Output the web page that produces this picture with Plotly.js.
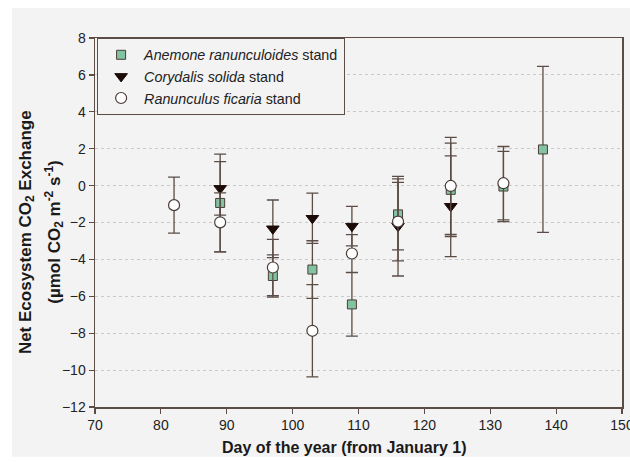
<!DOCTYPE html>
<html>
<head>
<meta charset="utf-8">
<script src="https://cdn.plot.ly/plotly-3.0.1.min.js"></script>
<style>
  html, body { margin: 0; padding: 0; background: #ffffff; }
  #chart { width: 630px; height: 462px; }
</style>
</head>
<body>
<div id="chart"></div>
<script>
// Net ecosystem CO2 exchange (mean ± error) by day of year for three spring-geophyte stands
const anemoneDays = [89, 97, 103, 109, 116, 124, 132, 138];
const anemoneNee  = [-0.94, -4.90, -4.55, -6.44, -1.56, -0.23, -0.05, 1.96];
const anemoneErr  = [2.65, 1.14, 1.56, 1.72, 1.92, 2.53, 1.90, 4.50];

const corydalisDays = [89, 97, 103, 109, 116, 124];
const corydalisNee  = [-0.15, -2.34, -1.77, -2.20, -2.20, -1.12];
const corydalisErr  = [1.45, 1.56, 1.36, 1.07, 2.70, 2.73];

const ranunculusDays = [82, 89, 97, 103, 109, 116, 124, 132];
const ranunculusNee  = [-1.06, -1.99, -4.44, -7.87, -3.68, -1.95, -0.02, 0.13];
const ranunculusErr  = [1.52, 1.60, 1.53, 2.50, 1.02, 2.13, 2.63, 1.99];

const seriesNames = [
  '<i>Anemone ranunculoides</i> stand',
  '<i>Corydalis solida</i> stand',
  '<i>Ranunculus ficaria</i> stand'
];

const ink = '#5b4c45';
const errStyle = (vals) => ({
  type: 'data', array: vals, visible: true,
  color: ink, thickness: 1.3, width: 6
});

const traces = [
  {
    x: anemoneDays, y: anemoneNee, error_y: errStyle(anemoneErr),
    name: seriesNames[0], mode: 'markers', type: 'scatter',
    marker: { symbol: 'square', size: 9, color: '#82c3a2',
              line: { color: '#4a3d37', width: 1 } }
  },
  {
    x: corydalisDays, y: corydalisNee, error_y: errStyle(corydalisErr),
    name: seriesNames[1], mode: 'markers', type: 'scatter',
    marker: { symbol: 'triangle-down', size: 11, color: '#1c0a06',
              line: { color: '#1c0a06', width: 1 } }
  },
  {
    x: ranunculusDays, y: ranunculusNee, error_y: errStyle(ranunculusErr),
    name: seriesNames[2], mode: 'markers', type: 'scatter',
    marker: { symbol: 'circle', size: 11, color: '#ffffff',
              line: { color: '#4a3d37', width: 1.2 } }
  }
];

const font = 'Liberation Sans, Arial, sans-serif';

const layout = {
  width: 630, height: 462,
  margin: { l: 95, r: 8, t: 38, b: 55 },
  paper_bgcolor: '#ffffff',
  plot_bgcolor: 'rgba(0,0,0,0)',
  font: { family: font, size: 14, color: '#222222' },
  showlegend: true,
  legend: {
    x: 0.004, y: 1, xanchor: 'left', yanchor: 'top',
    bgcolor: '#f3f3f3', bordercolor: ink, borderwidth: 1,
    font: { family: font, size: 14.3, color: '#222222' },
    itemwidth: 36,
    tracegroupgap: 0
  },
  xaxis: {
    range: [70, 150], dtick: 10, tick0: 70,
    showgrid: false, zeroline: false,
    showline: true, linecolor: ink, linewidth: 1.5, mirror: true,
    ticks: 'outside', ticklen: 5, tickwidth: 1.2, tickcolor: ink,
    ticklabeloverflow: 'allow',
    tickfont: { family: font, size: 14, color: '#222222' }
  },
  yaxis: {
    range: [-12, 8], dtick: 2, tick0: -12,
    showgrid: true, gridcolor: '#c9c9c9', gridwidth: 1, griddash: 'dot',
    zeroline: false,
    showline: true, linecolor: ink, linewidth: 1.5, mirror: true,
    ticks: 'outside', ticklen: 5, tickwidth: 1.2, tickcolor: ink,
    tickfont: { family: font, size: 14, color: '#222222' }
  },
  shapes: [{
    type: 'rect', xref: 'paper', yref: 'paper', layer: 'below',
    x0: -0.1575, x1: 1.02, y0: -0.135, y1: 1.0813,
    fillcolor: '#f3f3f3', line: { width: 0 }
  }],
  annotations: [
    {
      text: '<b>Day of the year (from January 1)</b>',
      xref: 'paper', yref: 'paper', x: 0.474, y: -0.111,
      xanchor: 'center', yanchor: 'middle', showarrow: false,
      font: { family: font, size: 16, color: '#1a1a1a' }
    },
    {
      text: '<b>Net Ecosystem CO<sub>2</sub> Exchange</b>',
      xref: 'paper', yref: 'paper', x: -0.129, y: 0.474,
      xanchor: 'center', yanchor: 'middle', textangle: -90, showarrow: false,
      font: { family: font, size: 17, color: '#1a1a1a' }
    },
    {
      text: '<b>(µmol CO<sub>2</sub> m<sup>-2</sup> s<sup>-1</sup>)</b>',
      xref: 'paper', yref: 'paper', x: -0.0785, y: 0.474,
      xanchor: 'center', yanchor: 'middle', textangle: -90, showarrow: false,
      font: { family: font, size: 17, color: '#1a1a1a' }
    }
  ]
};

Plotly.newPlot('chart', traces, layout, { displayModeBar: false, staticPlot: true });
</script>
</body>
</html>
